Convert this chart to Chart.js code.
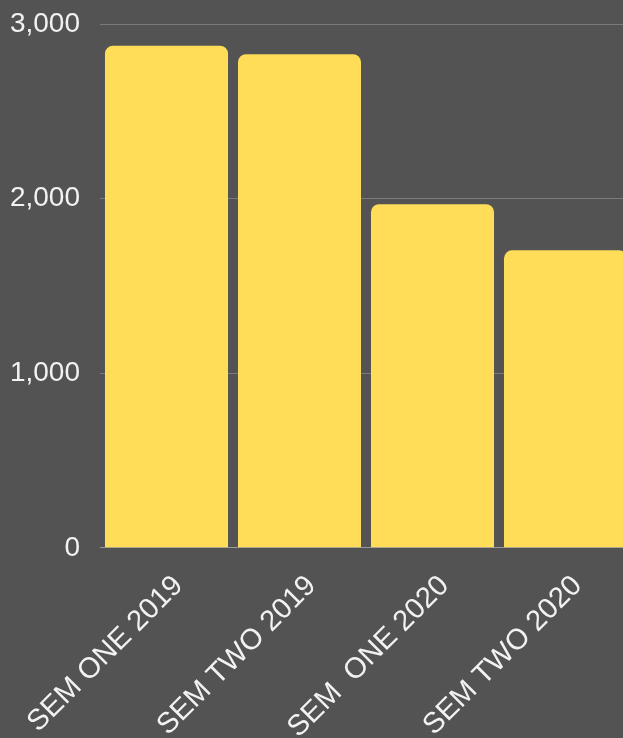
<!DOCTYPE html>
<html>
<head>
<meta charset="utf-8">
<script src="https://cdn.jsdelivr.net/npm/chart.js@4"></script>
<style>
  html, body { margin: 0; padding: 0; background: #535353; overflow: hidden; }
  #wrap { width: 632px; height: 758px; position: relative; }
</style>
</head>
<body>
<div id="wrap"><canvas id="myChart"></canvas></div>
<script>
// chart values
const semesters = ['SEM ONE 2019', 'SEM TWO 2019', 'SEM  ONE 2020', 'SEM TWO 2020'];
const enrolments = [2876, 2827, 1968, 1704];
const yMax = 3000;
const yStep = 1000;

const family = '"Liberation Sans", Arial, sans-serif';

const ctx = document.getElementById('myChart').getContext('2d');
new Chart(ctx, {
    type: 'bar',
    data: {
        labels: semesters,
        datasets: [{
            data: enrolments,
            backgroundColor: '#FFDD59',
            borderWidth: 0,
            borderRadius: 8,
            borderSkipped: 'start',
            categoryPercentage: 1,
            barPercentage: 0.925
        }]
    },
    options: {
        responsive: true,
        maintainAspectRatio: false,
        animation: false,
        layout: { padding: { top: 24, left: 9, right: 0, bottom: 0 } },
        plugins: { legend: { display: false }, tooltip: { enabled: false } },
        scales: {
            x: {
                grid: { display: false },
                border: { display: true, color: '#9a9a9a' },
                ticks: { color: '#f2f2f2', font: { family: family, size: 29 }, minRotation: 45, maxRotation: 45, padding: 13, labelOffset: 12 },
                // keep the rotated labels from pushing the plot area around
                afterFit: scale => { scale.paddingLeft = 0; scale.paddingRight = 0; }
            },
            y: {
                beginAtZero: true,
                max: yMax,
                grid: { color: '#7a7a7a', drawTicks: false },
                border: { display: false },
                ticks: { color: '#f2f2f2', font: { family: family, size: 28 }, stepSize: yStep, padding: 20 },
                afterFit: scale => { scale.width = 91; scale.paddingTop = 0; scale.paddingBottom = 0; }
            }
        }
    }
});
</script>
</body>
</html>
